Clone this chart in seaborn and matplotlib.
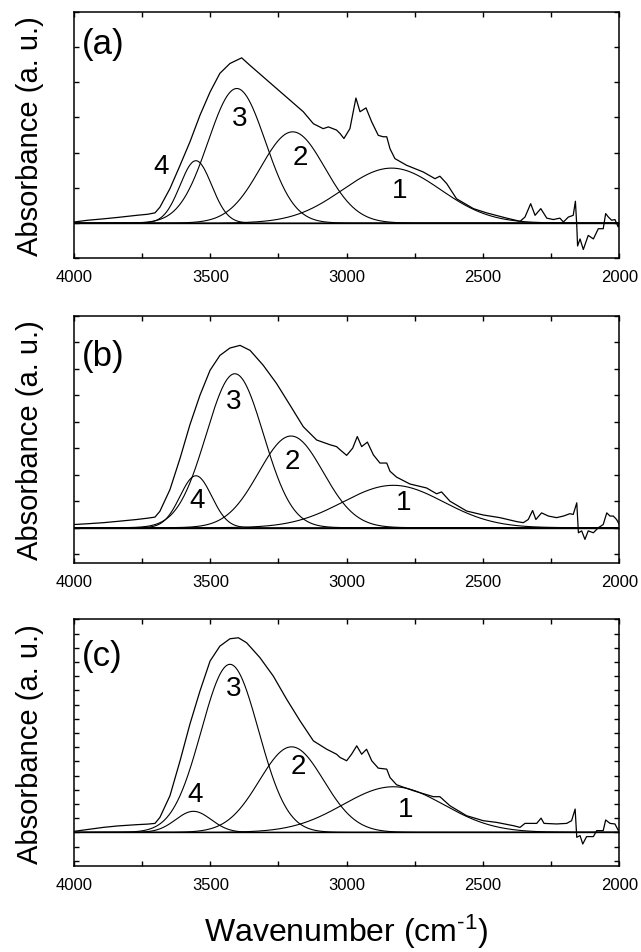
import numpy as np
import pandas as pd
import matplotlib
matplotlib.use("Agg")
import matplotlib.pyplot as plt
import seaborn as sns
from matplotlib.ticker import FixedLocator, MultipleLocator

sns.set_theme(style="ticks")
plt.rcParams['font.family'] = ['Liberation Sans', 'DejaVu Sans']
plt.rcParams['mathtext.fontset'] = 'custom'
plt.rcParams['mathtext.rm'] = 'Liberation Sans'
plt.rcParams['mathtext.it'] = 'Liberation Sans:italic'
plt.rcParams['axes.edgecolor'] = 'black'
plt.rcParams['xtick.color'] = 'black'
plt.rcParams['ytick.color'] = 'black'
plt.rcParams['text.color'] = 'black'

# ---------------- data ----------------
panel_labels = ["(a)", "(b)", "(c)"]
band_names = ["1", "2", "3", "4"]
x_ticks = [4000, 3500, 3000, 2500, 2000]

# panel (a) measured spectrum
a_wn = [4000, 3950, 3892, 3840, 3770, 3730, 3703, 3685, 3648, 3611, 3575, 3538, 3501, 3465,
        3428, 3385, 3355, 3306, 3257, 3208, 3159, 3122, 3086, 3067, 3037, 3024, 3010, 2988,
        2966, 2951, 2929, 2908, 2884, 2866, 2853, 2841, 2823, 2780, 2719, 2676, 2658, 2633,
        2597, 2535, 2487, 2413, 2364, 2346, 2325, 2309, 2288, 2266, 2242, 2218, 2205, 2187,
        2169, 2161, 2156, 2153, 2144, 2132, 2114, 2095, 2077, 2059, 2050, 2040, 2028, 2016,
        2004, 2000]
a_abs = [0.03, 0.08, 0.12, 0.16, 0.22, 0.25, 0.29, 0.45, 0.98, 1.64, 2.30, 3.06, 3.72, 4.25,
         4.53, 4.69, 4.48, 4.15, 3.82, 3.49, 3.16, 2.82, 2.68, 2.73, 2.64, 2.54, 2.40, 2.68,
         3.55, 3.16, 3.27, 2.87, 2.49, 2.45, 2.45, 2.11, 1.83, 1.64, 1.45, 1.26, 1.33, 1.12,
         0.69, 0.41, 0.29, 0.14, 0.05, 0.17, 0.55, 0.22, 0.41, 0.14, 0.10, 0.14, 0.03, 0.17,
         0.22, 0.62, -0.07, -0.65, -0.45, -0.75, -0.35, -0.45, -0.16, -0.16, 0.27, 0.17, 0.08, 0.10,
         -0.11, 0.03]
# fitted Gaussian bands 1-4: centre, height, sigma
a_centers = [2835, 3198, 3403, 3553]
a_heights = [1.56, 2.59, 3.82, 1.77]
a_sigmas = [180, 118, 105, 58]
a_label_wn = [2807, 3171, 3394, 3682]
a_label_abs = [0.95, 1.88, 2.97, 1.62]

# panel (b)
b_wn = [4000, 3950, 3892, 3840, 3770, 3730, 3703, 3685, 3648, 3611, 3575, 3538, 3501, 3465,
        3428, 3391, 3354, 3306, 3257, 3208, 3159, 3110, 3061, 3037, 3024, 3000, 2978, 2961,
        2945, 2924, 2902, 2878, 2853, 2841, 2817, 2768, 2707, 2670, 2652, 2621, 2560, 2499,
        2438, 2376, 2352, 2334, 2318, 2306, 2285, 2260, 2230, 2205, 2181, 2169, 2156, 2150,
        2138, 2126, 2114, 2095, 2077, 2059, 2046, 2034, 2022, 2010, 2000]
b_abs = [0.12, 0.15, 0.19, 0.24, 0.31, 0.36, 0.40, 0.62, 1.44, 2.62, 3.88, 5.00, 5.94, 6.50,
         6.78, 6.88, 6.69, 6.13, 5.44, 4.63, 3.81, 3.31, 3.13, 3.06, 2.94, 2.73, 3.00, 3.44,
         3.06, 3.23, 2.75, 2.44, 2.44, 2.13, 1.91, 1.65, 1.50, 1.28, 1.35, 1.00, 0.63, 0.48,
         0.38, 0.23, 0.19, 0.31, 0.65, 0.31, 0.56, 0.44, 0.38, 0.44, 0.53, 0.50, 0.94, -0.19,
         -0.12, -0.44, -0.12, -0.19, 0.00, 0.12, 0.56, 0.44, 0.44, 0.31, 0.12]
b_centers = [2829, 3204, 3410, 3553]
b_heights = [1.60, 3.46, 5.81, 1.96]
b_sigmas = [185, 118, 105, 58]
b_label_wn = [2792, 3198, 3416, 3550]
b_label_abs = [0.98, 2.50, 4.78, 1.06]

# panel (c)
c_wn = [4000, 3950, 3892, 3840, 3770, 3730, 3703, 3685, 3648, 3611, 3575, 3538, 3501, 3465,
        3428, 3397, 3367, 3318, 3269, 3220, 3171, 3122, 3073, 3037, 3024, 3000, 2982, 2963,
        2945, 2927, 2908, 2884, 2853, 2841, 2817, 2755, 2682, 2658, 2621, 2560, 2499, 2450,
        2389, 2364, 2346, 2303, 2287, 2276, 2230, 2193, 2175, 2162, 2156, 2144, 2134, 2120,
        2095, 2083, 2059, 2050, 2034, 2016, 2000]
c_abs = [0.07, 0.20, 0.35, 0.45, 0.54, 0.58, 0.63, 1.05, 2.58, 5.04, 7.61, 9.95, 12.06, 13.11,
         13.63, 13.70, 13.35, 12.30, 11.00, 9.37, 7.85, 6.44, 5.85, 5.50, 5.27, 5.04, 5.50, 6.09,
         5.50, 5.85, 5.04, 4.52, 4.45, 3.86, 3.35, 2.93, 2.51, 2.51, 1.87, 1.17, 0.82, 0.70,
         0.47, 0.35, 0.63, 0.63, 1.00, 0.63, 0.59, 0.63, 0.82, 1.64, -0.35, -0.23, -0.82, -0.30,
         -0.30, 0.12, 0.12, 0.87, 0.63, 0.59, 0.00]
c_centers = [2829, 3202, 3428, 3562]
c_heights = [3.21, 6.02, 11.83, 1.48]
c_sigmas = [185, 118, 105, 65]
c_label_wn = [2782, 3177, 3416, 3556]
c_label_abs = [1.64, 4.68, 10.14, 2.69]

panels = [
    (a_wn, a_abs, a_centers, a_heights, a_sigmas, a_label_wn, a_label_abs),
    (b_wn, b_abs, b_centers, b_heights, b_sigmas, b_label_wn, b_label_abs),
    (c_wn, c_abs, c_centers, c_heights, c_sigmas, c_label_wn, c_label_abs),
]
y_limits = [(-1.0, 6.0), (-1.32, 8.0), (-2.37, 15.0)]
panel_label_y = [0.937, 0.904, 0.92]

# ---------------- layout ----------------
W, H = 641, 953
fig = plt.figure(figsize=(W / 100, H / 100), dpi=100)
ax_px = [(74, 12.7, 619.3, 259.3), (74, 316.7, 619.3, 563.7), (74, 620.3, 619.3, 867.0)]

grid = np.linspace(4000, 2000, 1001)

for i, (wn, ab, cen, hei, sig, lw_, la_) in enumerate(panels):
    l, t, r, b = ax_px[i]
    ax = fig.add_axes([l / W, (H - b) / H, (r - l) / W, (b - t) / H])

    df = pd.DataFrame({"wn": wn, "abs": ab})
    sns.lineplot(data=df, x="wn", y="abs", ax=ax, color="black", lw=0.9,
                 sort=False, estimator=None)
    for c, h, s in zip(cen, hei, sig):
        comp = pd.DataFrame({"wn": grid, "abs": h * np.exp(-(grid - c) ** 2 / (2 * s ** 2))})
        sns.lineplot(data=comp, x="wn", y="abs", ax=ax, color="black", lw=0.8,
                     sort=False, estimator=None)
    ax.axhline(0, color="black", lw=1.0)

    for name, xw, ya in zip(band_names, lw_, la_):
        ax.text(xw, ya, name, ha="center", va="center", fontsize=20)
    ax.text(0.014, panel_label_y[i], panel_labels[i], transform=ax.transAxes,
            ha="left", va="top", fontsize=25)

    ax.set_xlim(4000, 2000)
    ax.set_ylim(*y_limits[i])
    ax.xaxis.set_major_locator(FixedLocator(x_ticks))
    ax.xaxis.set_minor_locator(MultipleLocator(250))
    ax.yaxis.set_major_locator(MultipleLocator(1))
    ax.set_xticklabels([str(v) for v in x_ticks])
    ax.tick_params(which="both", direction="in", length=3.5, width=1.0,
                   top=True, right=True, labelleft=False, labelsize=12, pad=8)
    ax.set_xlabel("")
    ax.set_ylabel("")
    for sp in ax.spines.values():
        sp.set_linewidth(1.1)
        sp.set_color("black")

    fig.text(30 / W, (H - (t + b) / 2) / H, "Absorbance (a. u.)", rotation=90,
             ha="center", va="center", fontsize=21)

fig.text(346.5 / W, (H - 941.7) / H, r"Wavenumber (cm$^{\text{-}1}$)", ha="center",
         va="baseline", fontsize=23)

fig.savefig("out.png", dpi=100)
